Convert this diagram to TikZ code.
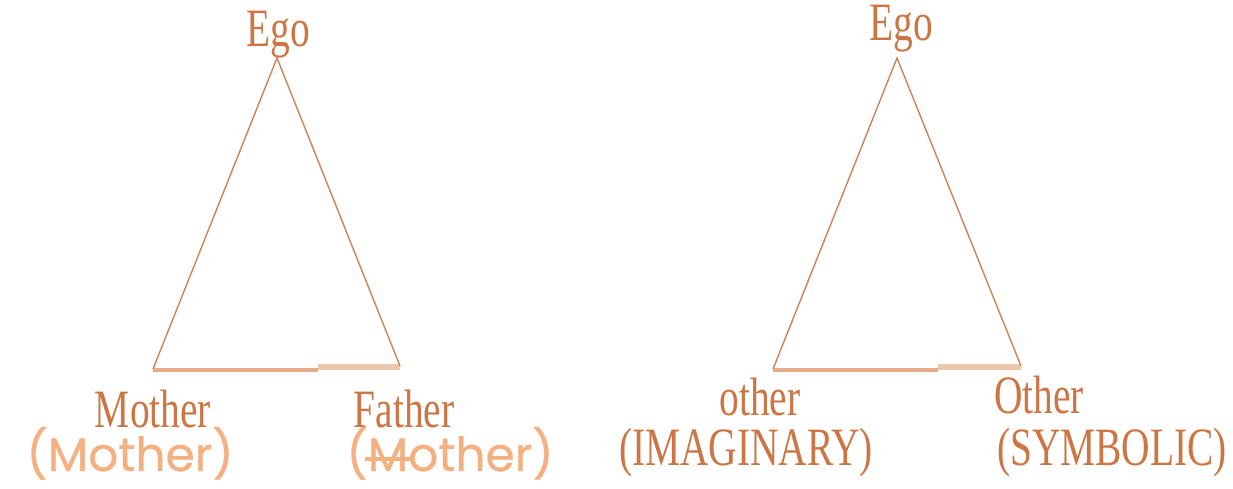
\documentclass[tikz,border=0pt]{standalone}
\usepackage{fontspec}
\newfontfamily\serf[FakeStretch=0.73]{Liberation Serif}
\newfontfamily\handf[FakeBold=0.6]{Poppins}
\definecolor{txtc}{RGB}{203,118,68}
\definecolor{linec}{RGB}{208,130,85}
\definecolor{basea}{RGB}{229,172,135}
\definecolor{baseb}{RGB}{236,198,170}
\definecolor{orng}{RGB}{245,176,130}
\tikzset{
  lbl/.style={anchor=base, inner sep=0pt, text=txtc, font=\serf\fontsize{54}{60}\selectfont},
  hand/.style={anchor=base, inner sep=0pt, text=orng, font=\handf\fontsize{47}{52}\selectfont},
  side/.style={draw=linec, line width=1.4pt},
  basel/.style={draw=basea, line width=4pt},
  baser/.style={draw=baseb, line width=6pt}
}
\begin{document}
\begin{tikzpicture}[x=1pt,y=-1pt]
\useasboundingbox (0,0) rectangle (1233,489);
% left triangle
\coordinate (LA) at (277,58);
\coordinate (LB) at (153,369);
\coordinate (LC) at (400,366);
\coordinate (LM) at (318,370);
\coordinate (LB2) at (153,370);
\coordinate (LM2) at (318,366.5);
\coordinate (LC2) at (400,366.5);
\draw[basel] (LB2) -- (LM);
\draw[baser] (LM2) -- (LC2);
\draw[side] (LB) -- (LA) -- (LC);
% right triangle
\coordinate (RA) at (897,58);
\coordinate (RB) at (773,369);
\coordinate (RC) at (1021,366);
\coordinate (RM) at (938,370);
\coordinate (RB2) at (773,370);
\coordinate (RM2) at (938,366.5);
\coordinate (RC2) at (1021,366.5);
\draw[basel] (RB2) -- (RM);
\draw[baser] (RM2) -- (RC2);
\draw[side] (RB) -- (RA) -- (RC);
% labels
\node[lbl] (ego1) at (278,47) {Ego};
\node[lbl] (ego2) at (901,41) {Ego};
\node[lbl] (moth) at (153,427) {Mother};
\node[lbl] (fath) at (404,427) {Father};
\node[lbl] (oth) at (760,415) {other};
\node[lbl] (imag) at (746,465) {(IMAGINARY)};
\node[lbl] (Oth) at (1039,413) {Other};
\node[lbl] (symb) at (1112,465) {(SYMBOLIC)};
\node[hand] (hm1) at (130,471) {(Mother)};
\node[hand] (hm2) at (450,471) {(\makebox[0pt][l]{\kern-0.06em\rule[0.22em]{0.98em}{0.07em}}Mother)};
\end{tikzpicture}
\end{document}
